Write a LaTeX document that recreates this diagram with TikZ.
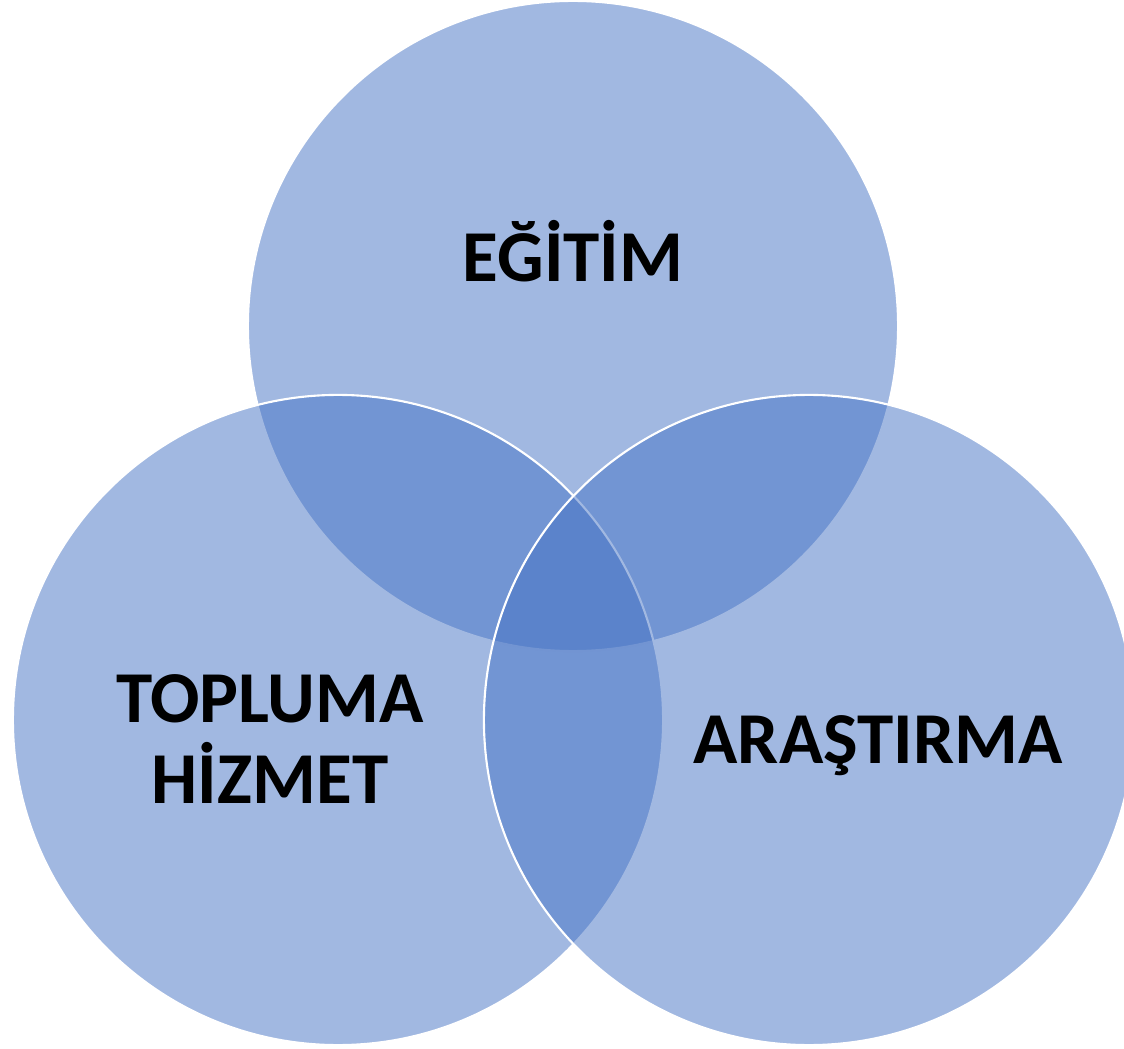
\documentclass[tikz,border=0pt]{standalone}
\usepackage{fontspec}
\setmainfont{Carlito}
\usepackage{tikz}
\definecolor{vennblue}{HTML}{4472C4}
\tikzset{
	venn/.style={circle,minimum size=16.25cm,inner sep=0pt,fill=vennblue,fill opacity=0.5,draw=white,line width=1.5pt},
	label/.style={font=\fontsize{52}{57.6}\selectfont\bfseries,text=black,inner sep=0pt,align=center}
}
\begin{document}
\begin{tikzpicture}[x=0.025cm,y=-0.025cm]
			\useasboundingbox (0,0) rectangle (1124,1049);
			\clip (0,0) rectangle (1124,1049);
			\node [venn] (egitim) at (573,326) {};
			\node [venn] (toplum) at (338,720) {};
			\node [venn] (arastirma) at (809,720) {};
			\node [label,anchor=base] (t1) at (573,282) {EĞİTİM};
			\node [label] (t2) at (270,739) {TOPLUMA\\HİZMET};
			\node [label,anchor=base] (t3) at (878,763) {ARAŞTIRMA};
		\end{tikzpicture}
\end{document}
